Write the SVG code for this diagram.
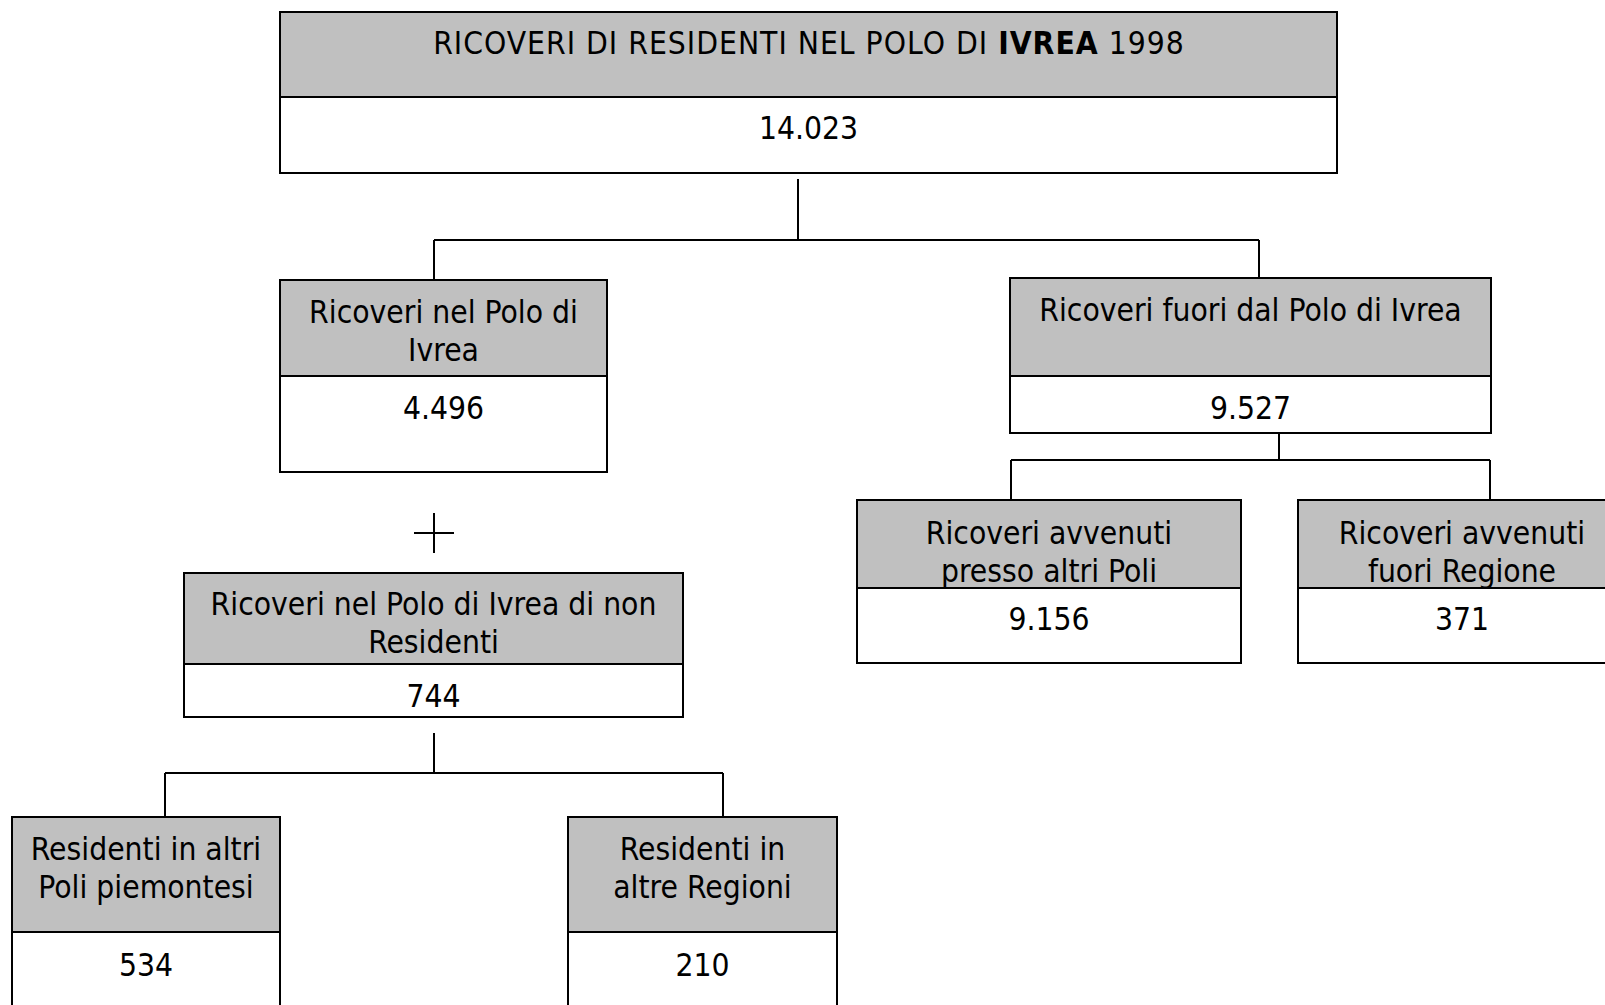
<svg xmlns="http://www.w3.org/2000/svg" width="1605" height="1005" viewBox="0 0 1605 1005">
<style>
.hd{fill:#c0c0c0;stroke:#000;stroke-width:2}
.bd{fill:#fff;stroke:#000;stroke-width:2}
text{font-family:'DejaVu Sans Condensed','DejaVu Sans',sans-serif;font-stretch:condensed;font-size:31.5px;fill:#000;text-anchor:middle}
.title{letter-spacing:1px}
.conn{stroke:#000;stroke-width:2;fill:none}
</style>
<rect width="1605" height="1005" fill="#fff"/>
<g id="connectors">
<path class="conn" d="M798 179V240M434 240H1259M434 240V280M1259 240V278"/>
<path class="conn" d="M1279 433V460M1011 460H1490M1011 460V500M1490 460V500"/>
<path class="conn" d="M414 533H454M434 513V553" stroke-width="1.5"/>
<path class="conn" d="M434 733V773M165 773H723M165 773V817M723 773V817"/>
</g>
<g id="n-total">
<rect class="hd" x="280" y="12" width="1057" height="85"/>
<rect class="bd" x="280" y="97" width="1057" height="76"/>
<text class="title" x="809" y="54">RICOVERI DI RESIDENTI NEL POLO DI <tspan font-weight="bold">IVREA</tspan> 1998</text>
<text x="808.5" y="139">14.023</text>
</g>
<g id="n-polo">
<rect class="hd" x="280" y="280" width="327" height="96"/>
<rect class="bd" x="280" y="376" width="327" height="96"/>
<text x="443.5" y="322.5">Ricoveri nel Polo di</text>
<text x="443.5" y="360.5">Ivrea</text>
<text x="443.5" y="419">4.496</text>
</g>
<g id="n-fuori">
<rect class="hd" x="1010" y="278" width="481" height="98"/>
<rect class="bd" x="1010" y="376" width="481" height="57"/>
<text x="1250.5" y="320.5">Ricoveri fuori dal Polo di Ivrea</text>
<text x="1250.5" y="419">9.527</text>
</g>
<g id="n-nonres">
<rect class="hd" x="184" y="573" width="499" height="91"/>
<rect class="bd" x="184" y="664" width="499" height="53"/>
<text x="433.5" y="615">Ricoveri nel Polo di Ivrea di non</text>
<text x="433.5" y="653">Residenti</text>
<text x="433.5" y="706.5">744</text>
</g>
<g id="n-altripoli">
<rect class="hd" x="857" y="500" width="384" height="88"/>
<rect class="bd" x="857" y="588" width="384" height="75"/>
<text x="1049" y="543.5">Ricoveri avvenuti</text>
<text x="1049" y="581.5">presso altri Poli</text>
<text x="1049" y="629.5">9.156</text>
</g>
<g id="n-fuoriregione">
<rect class="hd" x="1298" y="500" width="328" height="88"/>
<rect class="bd" x="1298" y="588" width="328" height="75"/>
<text x="1462" y="543.5">Ricoveri avvenuti</text>
<text x="1462" y="581.5">fuori Regione</text>
<text x="1462" y="629.5">371</text>
</g>
<g id="n-piemontesi">
<rect class="hd" x="12" y="817" width="268" height="115"/>
<rect class="bd" x="12" y="932" width="268" height="85"/>
<text x="146" y="860">Residenti in altri</text>
<text x="146" y="898">Poli piemontesi</text>
<text x="146" y="975.5">534</text>
</g>
<g id="n-altreregioni">
<rect class="hd" x="568" y="817" width="269" height="115"/>
<rect class="bd" x="568" y="932" width="269" height="85"/>
<text x="702.5" y="860">Residenti in</text>
<text x="702.5" y="898">altre Regioni</text>
<text x="702.5" y="975.5">210</text>
</g>
</svg>
